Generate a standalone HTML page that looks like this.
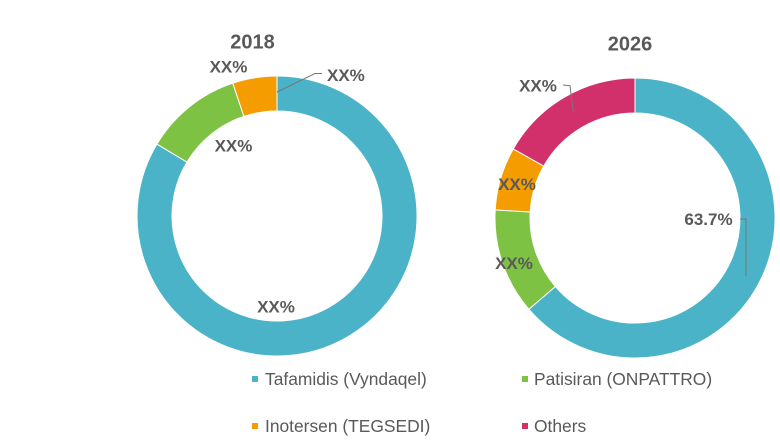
<!DOCTYPE html>
<html>
<head>
<meta charset="utf-8">
<style>
html,body{margin:0;padding:0;background:#fff;}
svg{display:block;}
text{font-family:"Liberation Sans",Arial,sans-serif;fill:#595959;}
.b{font-weight:bold;font-size:17px;}
.t{font-weight:bold;font-size:20px;}
.l{font-size:17.4px;}
</style>
</head>
<body>
<svg width="780" height="440" viewBox="0 0 780 440" xmlns="http://www.w3.org/2000/svg">
<rect width="780" height="440" fill="#fff"/>
<!-- 2018 donut -->
<g stroke="#fff" stroke-width="1">
<path d="M277,76 A140,140 0 1 1 156.9,144.1 L186.9,162.1 A105,105 0 1 0 277,111 Z" fill="#4BB3C8"/>
<path d="M156.9,144.1 A140,140 0 0 1 232.8,83.2 L243.9,116.4 A105,105 0 0 0 186.9,162.1 Z" fill="#7DC242"/>
<path d="M232.8,83.2 A140,140 0 0 1 277,76 L277,111 A105,105 0 0 0 243.9,116.4 Z" fill="#F59C00"/>
</g>
<!-- 2026 donut -->
<g stroke="#fff" stroke-width="1">
<path d="M635,78 A140,140 0 1 1 528.9,309.3 L555.4,286.5 A105,105 0 1 0 635,113 Z" fill="#4BB3C8"/>
<path d="M528.9,309.3 A140,140 0 0 1 495.2,209.9 L530.2,212 A105,105 0 0 0 555.4,286.5 Z" fill="#7DC242"/>
<path d="M495.2,209.9 A140,140 0 0 1 513.3,148.9 L543.7,166.1 A105,105 0 0 0 530.2,212 Z" fill="#F59C00"/>
<path d="M513.3,148.9 A140,140 0 0 1 635,78 L635,113 A105,105 0 0 0 543.7,166.1 Z" fill="#D1306A"/>
</g>
<!-- leader lines -->
<g fill="none" stroke="#777" stroke-width="1">
<polyline points="277,92 315,73.5 322,73.5"/>
<polyline points="563,85 570,85.7 573.3,112"/>
<polyline points="740,219 746,219 746,276"/>
</g>
<!-- titles -->
<text class="t" x="252.5" y="48.5" text-anchor="middle">2018</text>
<text class="t" x="630" y="50.5" text-anchor="middle">2026</text>
<!-- labels 2018 -->
<text class="b" x="228.5" y="72.7" text-anchor="middle">XX%</text>
<text class="b" x="327" y="81">XX%</text>
<text class="b" x="233.5" y="151.7" text-anchor="middle">XX%</text>
<text class="b" x="276" y="312.7" text-anchor="middle">XX%</text>
<!-- labels 2026 -->
<text class="b" x="538" y="91.7" text-anchor="middle">XX%</text>
<text class="b" x="517" y="190" text-anchor="middle">XX%</text>
<text class="b" x="514" y="269" text-anchor="middle">XX%</text>
<text class="b" x="708.5" y="225" text-anchor="middle">63.7%</text>
<!-- legend -->
<rect x="252" y="376" width="6" height="6" fill="#4BB3C8"/>
<text class="l" x="265" y="385">Tafamidis (Vyndaqel)</text>
<rect x="522" y="376" width="6" height="6" fill="#7DC242"/>
<text class="l" x="534" y="385">Patisiran (ONPATTRO)</text>
<rect x="252" y="423" width="6" height="6" fill="#F59C00"/>
<text class="l" x="265" y="432">Inotersen (TEGSEDI)</text>
<rect x="522" y="423" width="6" height="6" fill="#D1306A"/>
<text class="l" x="534" y="432">Others</text>
</svg>
</body>
</html>
